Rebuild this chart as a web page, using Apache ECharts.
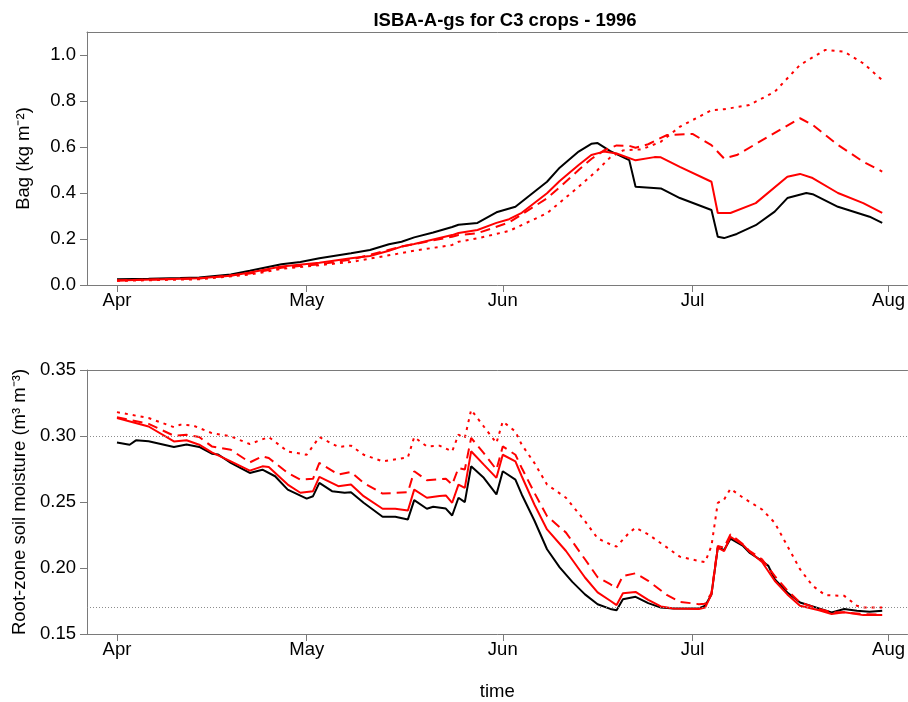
<!DOCTYPE html>
<html>
<head>
<meta charset="utf-8">
<script src="https://cdn.jsdelivr.net/npm/echarts@6/dist/echarts.min.js"></script>
<style>html,body{margin:0;padding:0;background:#fff}#c{width:908px;height:702px}</style>
</head>
<body>
<div id="c"></div>
<script>
// x values are days since 1 April 1996
const monthNames = ['Apr', 'May', 'Jun', 'Jul', 'Aug'];
const monthDays = [0, 30, 61, 91, 122];
const bagTicks = [0, 0.2, 0.4, 0.6, 0.8, 1.0];
const smTicks = [0.15, 0.20, 0.25, 0.30, 0.35];
const smRefLines = [0.30, 0.17];

// Top panel: Bag (kg m-2)
const bagBlack = [[0,.025],[5,.027],[10,.030],[13,.033],[18,.046],[21,.062],[26,.090],[29,.100],[32,.116],[37,.138],[40,.152],[43,.177],[45,.188],[47,.207],[50,.228],[53,.252],[54,.262],[57,.270],[60,.316],[63,.340],[65,.384],[68,.449],[70,.510],[73,.580],[75,.614],[76,.617],[78,.582],[81,.543],[82,.427],[86,.420],[89,.378],[94,.326],[95,.210],[96,.204],[98,.222],[101,.260],[104,.319],[106,.378],[109,.400],[110,.395],[114,.340],[119,.297],[121,.270]];
const bagRed = [[0,.020],[13,.029],[18,.040],[21,.054],[26,.080],[32,.097],[37,.116],[40,.126],[43,.149],[45,.167],[47,.178],[53,.217],[54,.226],[57,.239],[60,.270],[62,.286],[64,.314],[68,.399],[70,.452],[73,.522],[75,.565],[77,.580],[79,.572],[82,.542],[85,.556],[86,.555],[89,.514],[94,.449],[95,.313],[97,.313],[101,.356],[106,.471],[108,.483],[110,.465],[114,.400],[118,.356],[121,.314]];
const bagRedDashed = [[0,.020],[13,.028],[21,.050],[26,.075],[32,.090],[37,.110],[45,.167],[53,.210],[54,.217],[57,.225],[62,.272],[68,.377],[70,.425],[73,.500],[75,.548],[77,.585],[79,.607],[81,.605],[82,.597],[84,.612],[86,.640],[87,.652],[91,.657],[94,.608],[96,.550],[98,.565],[103,.645],[108,.725],[110,.696],[114,.609],[118,.536],[121,.493]];
const bagRedDotted = [[0,.018],[13,.025],[21,.045],[26,.070],[37,.100],[45,.139],[47,.149],[53,.174],[54,.188],[57,.203],[62,.235],[68,.312],[73,.427],[76,.500],[78,.555],[80,.585],[83,.590],[86,.623],[89,.688],[94,.760],[96,.764],[100,.783],[104,.840],[108,.957],[112,1.022],[115,1.014],[118,.964],[121,.891]];

// Bottom panel: root-zone soil moisture (m3 m-3)
const smBlack = [[0,.295],[2,.2934],[3,.2967],[5,.296],[9,.2917],[11,.2936],[13,.2917],[15,.2866],[16,.286],[18,.2796],[21,.272],[23,.2745],[25,.2695],[27,.2594],[30,.2526],[31,.2544],[32,.2645],[34,.2582],[36,.257],[37,.2574],[39,.2494],[42,.2388],[44,.2388],[46,.2368],[47,.2514],[49,.2449],[50,.2464],[52,.245],[53,.2398],[54,.2532],[55,.2499],[56,.277],[58,.2683],[60,.2557],[61,.2733],[63,.267],[64,.2557],[66,.236],[68,.2142],[70,.2005],[72,.1895],[74,.180],[76,.1725],[78,.169],[79,.168],[80,.1764],[82,.1782],[84,.1734],[86,.170],[88,.1694],[92,.1694],[93,.1714],[94,.180],[95,.2154],[96,.2136],[97,.2222],[99,.2167],[100,.2117],[102,.2053],[103,.2016],[104,.1915],[106,.1815],[108,.1739],[111,.1694],[113,.1664],[115,.1689],[117,.1677],[119,.1668],[121,.1677]];
const smRed = [[0,.3136],[5,.3072],[9,.2959],[11,.2968],[13,.2934],[15,.2876],[18,.2808],[21,.2738],[23,.277],[24,.2765],[27,.2632],[29,.257],[31,.2582],[32,.269],[35,.262],[37,.2632],[39,.2544],[42,.2449],[44,.2449],[46,.2436],[47,.2594],[49,.2532],[51,.2545],[52,.255],[53,.2494],[54,.2632],[55,.2607],[56,.2884],[58,.2783],[60,.2683],[61,.2858],[63,.2808],[64,.2695],[66,.2481],[68,.2292],[71,.2129],[74,.1928],[76,.1815],[78,.1752],[79,.1719],[80,.1809],[82,.1819],[84,.1759],[86,.1709],[88,.1694],[92,.1689],[93,.170],[94,.180],[95,.2154],[96,.2128],[97,.2237],[99,.2175],[100,.2125],[102,.2045],[104,.1903],[106,.180],[108,.1714],[111,.168],[113,.1651],[115,.1664],[118,.1643],[121,.1643]];
const smRedDashed = [[0,.3143],[5,.3092],[9,.3002],[11,.3009],[13,.2992],[15,.2921],[18,.2896],[21,.280],[23,.2846],[24,.2833],[27,.272],[29,.267],[31,.2676],[32,.2796],[35,.2708],[37,.2727],[39,.2645],[42,.2564],[46,.2574],[47,.2733],[49,.2665],[52,.2676],[53,.2632],[54,.2758],[55,.2746],[56,.2985],[58,.2871],[60,.2745],[61,.2921],[63,.2858],[64,.2758],[66,.257],[68,.2393],[71,.2268],[74,.2066],[76,.193],[78,.1877],[79,.1845],[80,.194],[82,.196],[84,.1903],[87,.1794],[89,.1744],[92,.1726],[93,.173],[94,.181],[95,.2167],[96,.2154],[97,.2255],[99,.218],[100,.213],[102,.2066],[104,.194],[106,.183],[108,.1739],[111,.169],[113,.1664],[115,.1664],[118,.1651],[121,.1647]];
const smRedDotted = [[0,.3181],[5,.3136],[9,.3067],[10,.3085],[12,.308],[15,.3022],[18,.2997],[21,.2939],[24,.2992],[27,.2883],[30,.2858],[32,.2992],[35,.2917],[37,.2927],[39,.2858],[42,.2808],[46,.2838],[47,.2992],[49,.2921],[51,.2927],[53,.2883],[54,.301],[55,.2985],[56,.3198],[58,.3072],[60,.2947],[61,.311],[63,.3034],[64,.2934],[66,.2796],[68,.2632],[71,.2532],[74,.2355],[76,.2225],[78,.2179],[79,.2162],[81,.2268],[82,.2305],[84,.2255],[87,.2154],[89,.2086],[92,.2053],[93,.2044],[94,.2167],[95,.2494],[96,.2519],[97,.260],[99,.2532],[102,.2443],[104,.2343],[106,.2167],[108,.1991],[110,.1865],[112,.1794],[115,.1789],[117,.1714],[118,.170],[121,.170]];

const FONT = "'Liberation Sans', Arial, Helvetica, sans-serif";
const FS = 18.5;
const AXC = '#7a7a7a';
const X_MIN = -4.74, X_MAX = 125;

function bottomX(gridIndex, withName) {
  return {
    type: 'value', gridIndex, min: X_MIN, max: X_MAX, position: 'bottom',
    axisLine: { show: true, onZero: false, lineStyle: { color: AXC, width: 1 } },
    axisTick: { show: true, inside: false, length: 7, customValues: monthDays, lineStyle: { color: AXC } },
    axisLabel: { show: true, customValues: monthDays, margin: 6, fontSize: FS, color: '#000', fontFamily: FONT,
      formatter: v => monthNames[monthDays.indexOf(Math.round(v))] || '' },
    splitLine: { show: false },
    name: withName ? 'time' : '', nameLocation: 'middle', nameGap: 48,
    nameTextStyle: { fontSize: FS, color: '#000', fontFamily: FONT }
  };
}
function topX(gridIndex) {
  return {
    type: 'value', gridIndex, min: X_MIN, max: X_MAX, position: 'top',
    axisLine: { show: true, onZero: false, lineStyle: { color: AXC, width: 1 } },
    axisTick: { show: false }, axisLabel: { show: false }, splitLine: { show: false }
  };
}
function yAx(gridIndex, min, max, ticks, digits, name) {
  return {
    type: 'value', gridIndex, min, max,
    axisLine: { show: true, onZero: false, lineStyle: { color: AXC, width: 1 } },
    axisTick: { show: true, length: 7, customValues: ticks, lineStyle: { color: AXC } },
    axisLabel: { show: true, customValues: ticks, margin: 11, fontSize: FS, color: '#000', fontFamily: FONT,
      formatter: v => v.toFixed(digits) },
    splitLine: { show: false },
    name, nameLocation: 'middle', nameGap: 54, nameRotate: 90,
    nameTextStyle: { fontSize: FS, color: '#000', fontFamily: FONT }
  };
}
function line(name, data, xi, yi, color, dash, extra) {
  return Object.assign({
    name, type: 'line', data, xAxisIndex: xi, yAxisIndex: yi, symbol: 'none', smooth: false,
    silent: true, clip: false,
    lineStyle: { color, width: 2, type: dash }
  }, extra || {});
}

const chart = echarts.init(document.getElementById('c'), null, { renderer: 'canvas' });
chart.setOption({
  animation: false,
  backgroundColor: '#fff',
  title: {
    text: 'ISBA-A-gs for C3 crops - 1996', left: 500, top: 6, textAlign: 'center',
    textStyle: { fontSize: 18.5, fontWeight: 'bold', color: '#000', fontFamily: FONT }
  },
  grid: [
    { left: 87, right: 0, top: 32, height: 253, containLabel: false },
    { left: 87, right: 0, top: 370, height: 265, containLabel: false }
  ],
  xAxis: [bottomX(0, false), topX(0), bottomX(1, true), topX(1)],
  yAxis: [
    yAx(0, 0, 1.1, bagTicks, 1, 'Bag (kg m\u207B\u00B2)'),
    yAx(1, 0.15, 0.35, smTicks, 2, 'Root-zone soil moisture (m\u00B3 m\u207B\u00B3)')
  ],
  series: [
    line('Bag control', bagBlack, 0, 0, '#000000', 'solid'),
    line('Bag red', bagRed, 0, 0, '#ff0000', 'solid'),
    line('Bag red dashed', bagRedDashed, 0, 0, '#ff0000', [10, 6]),
    line('Bag red dotted', bagRedDotted, 0, 0, '#ff0000', [3, 5]),
    line('SM control', smBlack, 2, 1, '#000000', 'solid', {
      markLine: {
        silent: true, symbol: 'none', label: { show: false },
        lineStyle: { color: '#8c8c8c', width: 1, type: [1, 2] },
        data: smRefLines.map(v => ({ yAxis: v }))
      }
    }),
    line('SM red', smRed, 2, 1, '#ff0000', 'solid'),
    line('SM red dashed', smRedDashed, 2, 1, '#ff0000', [10, 6]),
    line('SM red dotted', smRedDotted, 2, 1, '#ff0000', [3, 5])
  ]
});
</script>
</body>
</html>
